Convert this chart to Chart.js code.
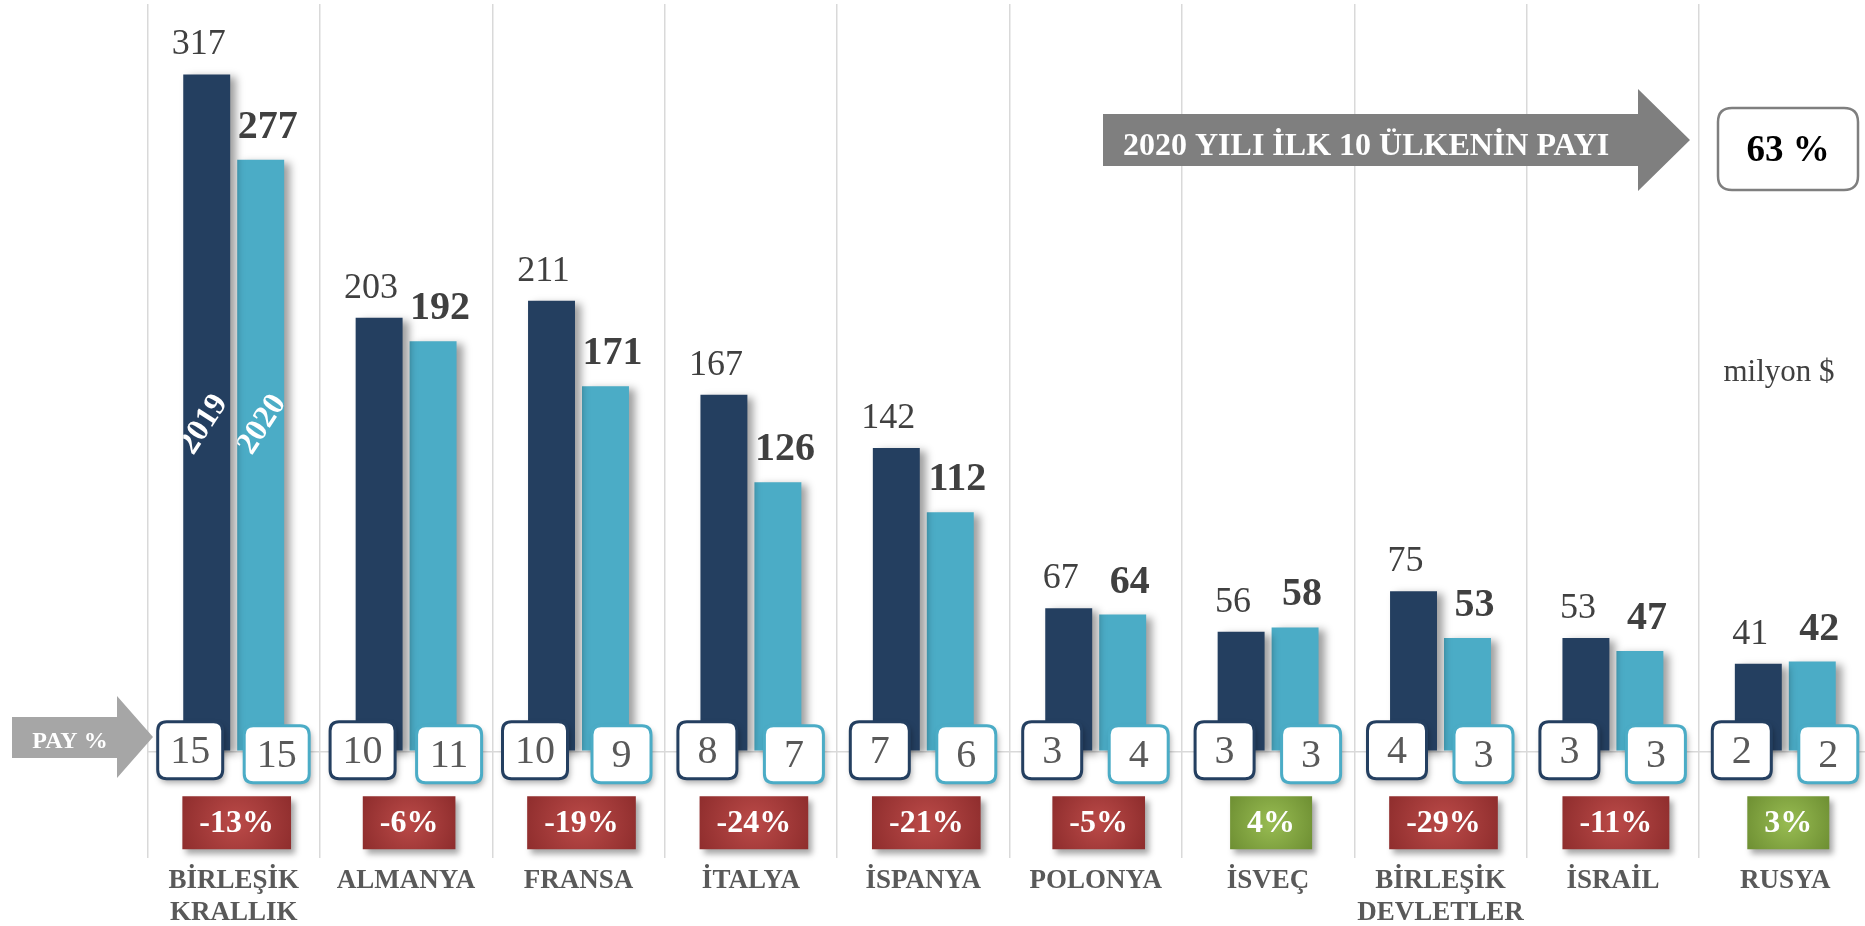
<!DOCTYPE html>
<html lang="tr">
<head>
<meta charset="utf-8">
<title>2020 yılı ilk 10 ülke</title>
<script src="https://cdn.jsdelivr.net/npm/chart.js@4.4.1/dist/chart.umd.min.js"></script>
<style>
  html, body { margin: 0; padding: 0; background: #fff; overflow: hidden; }
  #wrap { position: relative; width: 1880px; height: 926px; }
</style>
</head>
<body>
<div id="wrap"><canvas id="chart"></canvas></div>
<script>
// Veriler (milyon $)
const ulkeler = [['BİRLEŞİK', 'KRALLIK'], 'ALMANYA', 'FRANSA', 'İTALYA', 'İSPANYA', 'POLONYA', 'İSVEÇ', ['BİRLEŞİK', 'DEVLETLER'], 'İSRAİL', 'RUSYA'];
const deger2019 = [317, 203, 211, 167, 142, 67, 56, 75, 53, 41];
const deger2020 = [277, 192, 171, 126, 112, 64, 58, 53, 47, 42];
const pay2019 = [15, 10, 10, 8, 7, 3, 3, 4, 3, 2];
const pay2020 = [15, 11, 9, 7, 6, 4, 3, 3, 3, 2];
const degisim = [-13, -6, -19, -24, -21, -5, 4, -29, -11, 3];
const yillar = ['2019', '2020'];
const toplamPay = '63 %';

const SERIF = "'Liberation Serif', 'Times New Roman', serif";

function yuvarlakKutu(c, x, y, w, h, r) {
    c.beginPath();
    c.moveTo(x + r, y);
    c.lineTo(x + w - r, y);
    c.quadraticCurveTo(x + w, y, x + w, y + r);
    c.lineTo(x + w, y + h - r);
    c.quadraticCurveTo(x + w, y + h, x + w - r, y + h);
    c.lineTo(x + r, y + h);
    c.quadraticCurveTo(x, y + h, x, y + h - r);
    c.lineTo(x, y + r);
    c.quadraticCurveTo(x, y, x + r, y);
    c.closePath();
}

function ok(c, x0, yUst, yAlt, xBoyun, basUst, basAlt, xUc, renk) {
    const ym = (basUst + basAlt) / 2;
    c.beginPath();
    c.moveTo(x0, yUst);
    c.lineTo(xBoyun, yUst);
    c.lineTo(xBoyun, basUst);
    c.lineTo(xUc, ym);
    c.lineTo(xBoyun, basAlt);
    c.lineTo(xBoyun, yAlt);
    c.lineTo(x0, yAlt);
    c.closePath();
    c.fillStyle = renk;
    c.fill();
}

// Çubuk gölgesi
const golge = {
    id: 'golge',
    beforeDatasetsDraw(chart) {
        const c = chart.ctx;
        c.save();
        c.shadowColor = 'rgba(0,0,0,0.38)';
        c.shadowBlur = 8;
        c.shadowOffsetX = 6;
        c.shadowOffsetY = 3;
    },
    afterDatasetsDraw(chart) { chart.ctx.restore(); }
};

// Etiketler, pay kutuları, değişim kutuları
const etiketler = {
    id: 'etiketler',
    afterDatasetsDraw(chart) {
        const c = chart.ctx, xs = chart.scales.x, ys = chart.scales.y;
        const m0 = chart.getDatasetMeta(0), m1 = chart.getDatasetMeta(1);
        const y0 = ys.getPixelForValue(0);

        // değer etiketleri
        c.save();
        c.textAlign = 'center';
        c.textBaseline = 'alphabetic';
        c.fillStyle = '#404040';
        c.font = '36px ' + SERIF;
        m0.data.forEach((b, i) => c.fillText(deger2019[i], b.x - 8, b.y - 20));
        c.font = 'bold 40px ' + SERIF;
        m1.data.forEach((b, i) => c.fillText(deger2020[i], b.x + 7, b.y - 22));
        c.restore();

        // yıl yazıları (ilk çubukların içinde)
        [[m0.data[0], yillar[0], -3], [m1.data[0], yillar[1], 1.5]].forEach(([b, t, dx]) => {
            c.save();
            c.beginPath();
            c.rect(b.x - b.width / 2, b.y, b.width, y0 - b.y);
            c.clip();
            c.translate(b.x + dx, ys.getPixelForValue(153));
            c.rotate(-57 * Math.PI / 180);
            c.font = 'bold 32px ' + SERIF;
            c.fillStyle = '#fff';
            c.textAlign = 'center';
            c.textBaseline = 'middle';
            c.fillText(t, 0, 0);
            c.restore();
        });

        // PAY % kutuları
        const payKutu = (cx, top, v, kenar) => {
            const w = v >= 10 ? 65 : 59, h = 57;
            c.save();
            c.shadowColor = 'rgba(0,0,0,0.35)';
            c.shadowBlur = 6;
            c.shadowOffsetX = 2;
            c.shadowOffsetY = 4;
            yuvarlakKutu(c, cx - w / 2, top, w, h, 9);
            c.fillStyle = '#fff';
            c.fill();
            c.shadowColor = 'transparent';
            c.lineWidth = 3;
            c.strokeStyle = kenar;
            c.stroke();
            c.fillStyle = '#595959';
            c.font = '40px ' + SERIF;
            c.textAlign = 'center';
            c.textBaseline = 'middle';
            c.fillText(v, cx, top + h / 2 + 2);
            c.restore();
        };
        pay2019.forEach((v, i) => payKutu(xs.getPixelForValue(i) - 43.5, y0 - 29.5, v, '#243f60'));
        pay2020.forEach((v, i) => payKutu(xs.getPixelForValue(i) + 43, y0 - 25.5, v, '#4bacc6'));

        // değişim kutuları
        degisim.forEach((v, i) => {
            const t = v + '%';
            c.save();
            c.font = 'bold 32px ' + SERIF;
            const w = c.measureText(t).width + 34, h = 53;
            const cx = xs.getPixelForValue(i) + 3, top = y0 + 45;
            const g = c.createRadialGradient(cx, top + h / 2, 0, cx, top + h / 2, w * 0.6);
            if (v < 0) { g.addColorStop(0, '#bb4a48'); g.addColorStop(1, '#8b2b2b'); }
            else { g.addColorStop(0, '#98bc52'); g.addColorStop(1, '#6d8e32'); }
            c.shadowColor = 'rgba(0,0,0,0.35)';
            c.shadowBlur = 6;
            c.shadowOffsetX = 4;
            c.shadowOffsetY = 5;
            c.fillStyle = g;
            c.fillRect(cx - w / 2, top, w, h);
            c.shadowColor = 'transparent';
            c.fillStyle = '#fff';
            c.textAlign = 'center';
            c.textBaseline = 'middle';
            c.fillText(t, cx, top + h / 2 + 1);
            c.restore();
        });
    },
    afterDraw(chart) {
        const c = chart.ctx;
        c.save();
        // üst ok
        ok(c, 1103, 114, 166, 1638, 89, 191, 1690, '#7f7f7f');
        c.fillStyle = '#fff';
        c.font = 'bold 32px ' + SERIF;
        c.textAlign = 'left';
        c.textBaseline = 'alphabetic';
        c.fillText('2020 YILI İLK 10 ÜLKENİN PAYI', 1123, 155);

        // 63 % kutusu
        yuvarlakKutu(c, 1718, 108, 140, 82, 14);
        c.fillStyle = '#fff';
        c.fill();
        c.lineWidth = 2.5;
        c.strokeStyle = '#7f7f7f';
        c.stroke();
        c.fillStyle = '#000';
        c.font = 'bold 37px ' + SERIF;
        c.textAlign = 'center';
        c.textBaseline = 'middle';
        c.fillText(toplamPay, 1788, 151);

        // birim
        c.fillStyle = '#404040';
        c.font = '31px ' + SERIF;
        c.textBaseline = 'alphabetic';
        c.fillText('milyon $', 1779, 381);

        // PAY % oku
        ok(c, 12, 717, 758, 117, 696, 778, 153, '#a6a6a6');
        c.fillStyle = '#fff';
        c.font = 'bold 24px ' + SERIF;
        c.textBaseline = 'middle';
        c.fillText('PAY %', 70, 742);
        c.restore();
    }
};

const beyazZemin = {
    id: 'beyazZemin',
    beforeDraw(chart) {
        const c = chart.ctx;
        c.save();
        c.fillStyle = '#fff';
        c.fillRect(0, 0, chart.width, chart.height);
        c.restore();
    }
};

new Chart(document.getElementById('chart').getContext('2d'), {
    type: 'bar',
    data: {
        labels: ulkeler,
        datasets: [
            { label: yillar[0], data: deger2019, backgroundColor: '#243f60', borderWidth: 0 },
            { label: yillar[1], data: deger2020, backgroundColor: '#4bacc6', borderWidth: 0 }
        ]
    },
    options: {
        responsive: true,
        maintainAspectRatio: false,
        animation: false,
        layout: { padding: { left: 147.5, right: 8.5, top: 4, bottom: 0 } },
        datasets: { bar: { barPercentage: 0.87, categoryPercentage: 0.626 } },
        plugins: { legend: { display: false }, tooltip: { enabled: false } },
        scales: {
            x: {
                grid: { color: '#d9d9d9', lineWidth: 1.5, drawTicks: false },
                border: { display: false },
                ticks: {
                    color: '#595959',
                    padding: 8,
                    maxRotation: 0,
                    autoSkip: false,
                    font: { family: SERIF, size: 27, weight: 'bold', lineHeight: 1.15 }
                },
                afterFit(scale) { scale.height = 68; }
            },
            y: {
                min: -50,
                max: 350,
                ticks: { display: false, stepSize: 50 },
                grid: {
                    drawTicks: false,
                    lineWidth: 1.5,
                    color: ctx => ctx.tick && ctx.tick.value === 0 ? '#d9d9d9' : 'rgba(0,0,0,0)'
                },
                border: { display: false }
            }
        }
    },
    plugins: [beyazZemin, golge, etiketler]
});
</script>
</body>
</html>
